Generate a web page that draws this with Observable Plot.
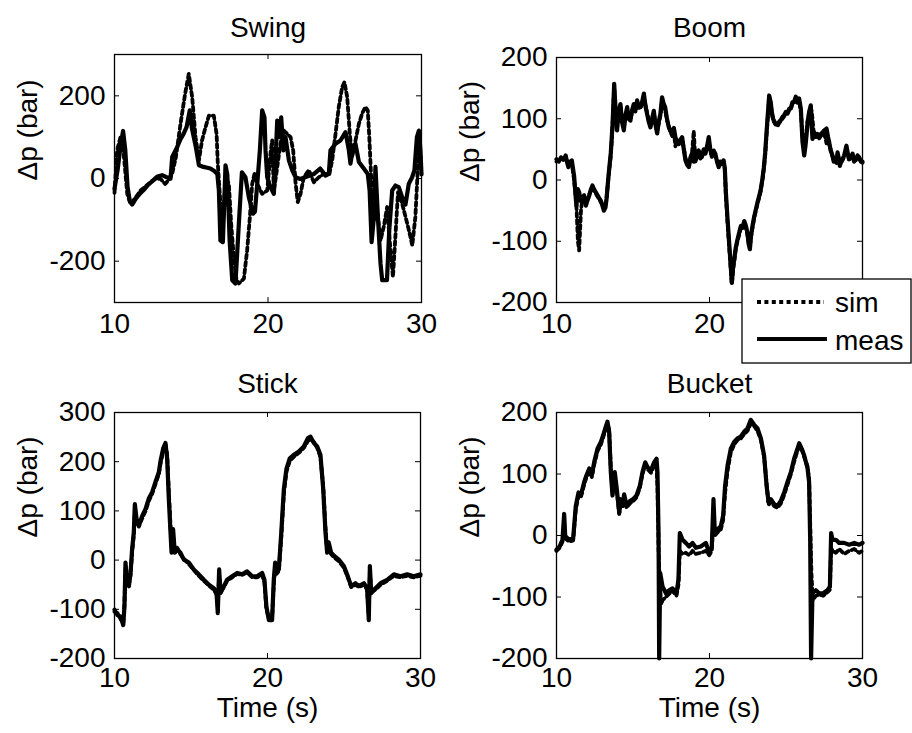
<!DOCTYPE html>
<html><head><meta charset="utf-8">
<script src="https://cdn.jsdelivr.net/npm/d3@7"></script>
<script src="https://cdn.jsdelivr.net/npm/@observablehq/plot@0.6"></script>
<style>
body{margin:0;background:#fff;}
#root{position:relative;width:912px;height:733px;overflow:hidden;background:#fff;font-family:"Liberation Sans",Arial,sans-serif;}
.panel{position:absolute;}
.panel svg{display:block;}
#legend{position:absolute;left:741px;top:278px;}
</style></head><body><div id="root"></div>
<script>
// ---------- data (time in s, Δp in bar) ----------
const titles = ["Swing", "Boom", "Stick", "Bucket"];
const xTicks = [10, 20, 30];
const boomXLabels = [10, 20]; // the "30" label is hidden under the legend in the original
const swingYTicks = [-200, 0, 200];
const boomYTicks = [-200, -100, 0, 100, 200];
const stickYTicks = [-200, -100, 0, 100, 200, 300];
const bucketYTicks = [-200, -100, 0, 100, 200];
const legendLabels = ["sim", "meas"];

const swingMeasT = [10.0,10.2,10.4,10.56,10.7,10.85,11.0,11.15,11.4,11.7,11.9,12.2,12.5,12.8,13.1,13.4,13.65,13.76,14.08,14.3,14.5,14.7,14.9,15.05,15.3,15.5,15.8,16.05,16.25,16.5,16.7,16.8,16.9,17.06,17.15,17.23,17.35,17.5,17.67,17.88,18.1,18.3,18.53,18.75,19.03,19.15,19.3,19.47,19.62,19.77,19.84,19.95,20.16,20.38,20.49,20.6,20.75,20.86,21.0,21.14,21.36,21.58,21.8,22.1,22.55,23.0,23.4,23.75,23.96,24.07,24.4,24.72,25.05,25.27,25.37,25.55,25.7,25.92,26.24,26.5,26.62,26.75,26.9,27.0,27.16,27.33,27.44,27.75,27.9,28.09,28.3,28.52,28.74,28.96,29.17,29.39,29.54,29.7,29.83,29.93,30.0];
const swingMeasP = [-25,20,80,115,70,-20,-55,-63,-48,-35,-28,-15,-5,5,8,3,0,52,76,95,108,125,165,120,76,32,28,26,24,18,11,-29,-150,-154,-60,32,10,-150,-246,-254,-110,15,3,-45,-85,-80,-13,68,165,148,68,3,-21,-37,44,140,100,148,68,100,44,20,3,-1,5,11,24,7,11,68,84,92,112,68,36,76,84,40,24,11,-29,-154,-93,28,-93,-206,-246,-246,-125,-29,-17,-21,-45,-63,-13,3,20,100,116,68,10];
const swingSimT = [10.0,10.17,10.39,10.55,10.83,11.04,11.3,11.7,12.0,12.35,12.7,13.0,13.3,13.5,13.75,14.0,14.3,14.6,14.84,15.06,15.28,15.5,15.7,15.93,16.15,16.47,16.65,16.73,16.9,17.0,17.12,17.23,17.45,17.6,17.77,17.95,18.1,18.43,18.64,18.82,18.97,19.12,19.3,19.62,19.95,20.16,20.27,20.38,20.5,20.81,21.03,21.25,21.47,21.64,21.8,21.94,22.12,22.33,22.66,22.99,23.31,23.64,24.0,24.18,24.4,24.61,24.83,24.98,25.16,25.33,25.48,25.7,25.92,26.13,26.35,26.5,26.6,26.74,26.9,27.11,27.33,27.55,27.76,27.98,28.14,28.31,28.47,28.74,28.96,29.18,29.4,29.6,29.72,29.83,30.0];
const swingSimP = [-35,68,100,80,-37,-61,-50,-29,-20,-9,0,-1,-13,-5,10,52,132,205,253,197,100,44,92,124,152,152,108,36,-61,-142,-77,3,-13,-110,-190,-246,-254,-242,-174,-93,-13,11,-13,-37,-29,60,92,-29,0,84,116,108,100,68,-13,-57,-37,3,20,-9,3,11,11,44,108,173,221,233,197,108,52,92,132,157,173,165,100,-13,-100,-77,-150,-115,-69,-174,-238,-134,-33,-61,-93,-125,-162,-93,-5,68,44];

const boomT = [
  10.0,10.15,10.3,10.45,10.6,10.7,10.78,10.9,11.0,11.15,
  11.3,11.4,11.48,11.6,11.7,11.8,11.92,12.0,12.13,12.25,
  12.35,12.45,12.57,12.75,12.9,13.0,13.1,13.2,13.27,13.4,
  13.55,13.66,13.77,13.85,13.96,14.05,14.18,14.28,14.4,14.5,
  14.62,14.72,14.83,14.95,15.05,15.15,15.27,15.38,15.49,15.6,
  15.71,15.82,15.92,16.03,16.14,16.25,16.36,16.47,16.58,16.68,
  16.79,16.9,17.0,17.1,17.22,17.34,17.45,17.56,17.67,17.77,
  17.88,17.99,18.1,18.21,18.32,18.43,18.54,18.65,18.76,18.86,
  18.97,19.08,19.18,19.29,19.4,19.51,19.62,19.73,19.84,19.95,
  20.05,20.16,20.27,20.38,20.49,20.6,20.7,20.81,20.92,21.0,
  21.07,21.18,21.33,21.46,21.55,21.61,21.72,21.83,21.95,22.05,
  22.15,22.27,22.38,22.48,22.56,22.64,22.72,22.81,22.92,23.03,
  23.15,23.25,23.35,23.46,23.55,23.64,23.72,23.79,23.9,24.0,
  24.08,24.16,24.25,24.34,24.45,24.55,24.66,24.77,24.88,24.99,
  25.1,25.21,25.32,25.42,25.53,25.64,25.75,25.86,25.97,26.08,
  26.19,26.27,26.34,26.42,26.51,26.62,26.68,26.73,26.84,26.95,
  27.06,27.17,27.28,27.4,27.5,27.65,27.75,27.82,27.92,28.04,
  28.12,28.21,28.3,28.37,28.45,28.52,28.6,28.69,28.8,28.95,
  29.05,29.13,29.25,29.35,29.45,29.56,29.68,29.78,29.9,30.0];
const boomMeasP = [
  34,30,37,33,40,28,21,30,32,7,
  -42,-15,-20,-35,-31,-25,-42,-35,-26,-15,
  -9,-15,-20,-28,-34,-42,-50,-45,-31,7,
  45,89,157,120,81,110,124,95,81,105,
  119,100,97,115,124,112,130,118,119,128,
  141,120,108,95,86,100,113,90,76,95,
  108,135,125,119,100,86,80,76,85,70,
  62,59,66,70,50,32,25,21,35,43,
  30,32,45,48,36,38,50,43,55,70,
  50,38,48,43,30,21,30,26,32,20,
  -20,-64,-119,-168,-140,-130,-110,-97,-85,-75,
  -78,-67,-75,-86,-105,-113,-90,-75,-60,-48,
  -35,-26,-15,2,20,45,75,100,138,127,
  110,100,95,92,90,95,98,103,106,111,
  110,116,118,127,128,136,128,133,116,62,
  40,55,73,95,111,122,90,67,78,72,
  75,70,75,78,81,84,70,62,48,40,
  30,34,28,45,35,23,30,34,40,56,
  42,34,38,43,30,34,40,37,30,30];
const boomSimP = [
  30,32,35,34,38,30,25,28,28,0,
  -40,-100,-115,-50,-28,-30,-40,-33,-24,-18,
  -12,-16,-22,-30,-36,-40,-48,-42,-30,5,
  40,85,150,115,85,105,120,98,85,100,
  115,105,100,112,120,115,126,120,118,125,
  135,122,110,98,90,98,110,92,80,92,
  105,128,122,115,98,88,78,72,80,55,
  65,58,62,68,52,35,28,25,38,45,
  80,30,40,50,35,40,48,45,52,65,
  48,40,45,40,32,22,28,25,30,18,
  -25,-70,-125,-170,-145,-135,-112,-100,-88,-78,
  -80,-70,-78,-90,-102,-108,-92,-78,-62,-50,
  -38,-28,-18,0,18,40,70,95,132,125,
  108,98,93,90,88,93,96,100,104,108,
  108,114,116,124,126,133,126,130,112,70,
  55,62,80,98,108,118,112,100,70,70,
  72,68,72,75,76,60,65,58,50,38,
  32,32,30,42,35,25,28,32,38,52,
  40,32,36,40,32,32,38,35,30,28];

const stickT = [10.0,10.2,10.4,10.57,10.65,10.72,10.83,10.94,11.05,11.15,11.26,11.33,11.44,11.59,11.81,12.03,12.24,12.46,12.68,12.9,13.0,13.18,13.33,13.44,13.55,13.66,13.73,13.83,13.94,14.1,14.31,14.53,14.86,15.18,15.51,15.84,16.17,16.49,16.67,16.75,16.84,16.93,17.15,17.36,17.69,18.02,18.34,18.67,19.0,19.32,19.65,19.8,19.93,20.09,20.3,20.41,20.5,20.59,20.74,20.9,21.07,21.24,21.46,21.72,22.05,22.37,22.64,22.81,23.03,23.25,23.46,23.64,23.79,23.9,24.0,24.16,24.38,24.66,24.99,25.25,25.47,25.75,25.97,26.3,26.51,26.62,26.69,26.78,27.06,27.39,27.82,28.26,28.69,29.13,29.56,30.0];
const stickMeasP = [-101,-112,-115,-132,-95,-5,-47,-53,-26,22,56,114,84,70,90,104,125,138,159,179,200,227,238,207,125,56,15,63,15,22,15,1,-5,-19,-29,-40,-50,-57,-67,-108,-19,-67,-53,-40,-33,-26,-29,-23,-33,-33,-26,-40,-95,-122,-122,-40,-5,-26,-19,56,145,186,207,214,221,231,248,251,238,231,214,145,56,15,36,15,8,1,-12,-33,-53,-47,-53,-47,-57,-122,-12,-67,-57,-47,-40,-29,-33,-29,-33,-29];
const stickSimP = [-105,-108,-120,-128,-90,-15,-50,-50,-30,15,50,100,80,68,85,100,120,135,155,175,195,222,235,215,140,70,25,50,20,25,12,3,-8,-20,-32,-42,-52,-60,-70,-95,-30,-65,-55,-42,-35,-28,-30,-25,-35,-35,-30,-45,-100,-118,-118,-50,-15,-28,-22,45,135,180,202,210,218,228,242,246,240,228,210,150,65,20,30,12,5,-2,-15,-35,-55,-50,-55,-50,-60,-110,-25,-65,-60,-50,-42,-32,-35,-32,-35,-32];

const bucketMeasT = [10.0,10.2,10.39,10.5,10.57,10.83,11.09,11.26,11.44,11.59,11.81,11.96,12.14,12.31,12.46,12.68,12.9,13.05,13.22,13.33,13.44,13.55,13.66,13.81,13.94,14.1,14.2,14.31,14.42,14.58,14.79,15.01,15.23,15.45,15.62,15.8,15.95,16.17,16.38,16.54,16.6,16.67,16.71,16.78,16.93,17.15,17.36,17.58,17.84,17.97,18.06,18.24,18.45,18.67,18.89,19.11,19.43,19.76,19.98,20.15,20.26,20.35,20.52,20.74,20.89,21.02,21.18,21.39,21.61,21.83,22.05,22.27,22.48,22.7,22.92,23.14,23.36,23.57,23.73,23.86,24.01,24.23,24.44,24.66,24.88,25.1,25.32,25.53,25.75,25.86,26.03,26.19,26.41,26.51,26.58,26.64,26.73,26.95,27.17,27.43,27.71,27.87,27.95,28.04,28.26,28.47,28.8,29.13,29.46,29.78,30.0];
const bucketMeasP = [-23,-18,-7,35,-1,-7,-4,48,70,65,87,98,109,98,119,141,152,163,177,185,169,103,65,103,76,37,59,48,67,48,56,59,65,81,103,119,111,106,119,125,103,4,-200,-61,-83,-94,-89,-86,-94,-72,4,-7,-12,-18,-12,-20,-18,-12,-28,-18,59,4,10,15,32,81,114,141,152,158,161,169,174,188,180,174,158,130,81,54,59,51,48,56,70,87,103,125,141,150,141,130,109,87,-7,-200,-94,-89,-94,-94,-89,-83,4,-7,-7,-12,-12,-15,-12,-15,-12];
const bucketSimT = [10.0,10.2,10.39,10.5,10.57,10.83,11.09,11.26,11.44,11.59,11.81,11.96,12.14,12.31,12.46,12.68,12.9,13.05,13.22,13.33,13.44,13.55,13.66,13.81,13.94,14.1,14.2,14.31,14.42,14.58,14.79,15.01,15.23,15.45,15.62,15.8,15.95,16.17,16.38,16.54,16.6,16.67,16.75,16.85,16.93,17.15,17.36,17.58,17.84,17.97,18.06,18.24,18.45,18.67,18.89,19.11,19.43,19.76,19.98,20.15,20.26,20.35,20.52,20.74,20.89,21.02,21.18,21.39,21.61,21.83,22.05,22.27,22.48,22.7,22.92,23.14,23.36,23.57,23.73,23.86,24.01,24.23,24.44,24.66,24.88,25.1,25.32,25.53,25.75,25.86,26.03,26.19,26.41,26.51,26.58,26.66,26.75,26.95,27.17,27.43,27.71,27.87,27.95,28.04,28.26,28.47,28.8,29.13,29.46,29.78,30.0];
const bucketSimP = [-25,-20,-10,20,-5,-10,-8,42,65,62,83,95,105,95,115,137,148,160,173,180,172,110,70,95,72,35,55,45,62,45,52,56,62,78,100,115,108,102,115,110,80,-20,-80,-112,-105,-100,-95,-90,-98,-80,-25,-30,-28,-32,-25,-30,-28,-25,-32,-25,30,0,5,10,25,70,105,135,148,155,158,165,170,182,178,170,155,128,85,50,55,48,45,52,66,83,100,120,138,145,140,128,112,90,20,-60,-105,-98,-96,-98,-92,-88,-20,-25,-28,-22,-30,-25,-22,-28,-25];

// ---------- drawing ----------
const FONT = '"Liberation Sans", Arial, sans-serif';
const FS = 28;
const DASH = "4,3.4";
const toRows = (t, p) => t.map((x, i) => ({t: x, p: p[i]}));
const fmt = d => String(d); // plain hyphen-minus, as in the original

const panels = [
  {title: titles[0], left: 0,   top: 0,   h: 366, ml: 114, mr: 35, mt: 54, mb: 64, yDomain: [-300, 300], yTicks: swingYTicks, xLabels: xTicks,
   sim: toRows(swingSimT, swingSimP), meas: toRows(swingMeasT, swingMeasP), time: false, tdy: -18, pad: 11},
  {title: titles[1], left: 456, top: 0,   h: 366, ml: 100, mr: 50, mt: 57, mb: 64, yDomain: [-200, 200], yTicks: boomYTicks, xLabels: boomXLabels,
   sim: toRows(boomT, boomSimP), meas: toRows(boomT, boomMeasP), time: false, tdy: -21, pad: 11},
  {title: titles[2], left: 0,   top: 366, h: 367, ml: 114, mr: 36, mt: 46, mb: 75, yDomain: [-200, 300], yTicks: stickYTicks, xLabels: xTicks,
   sim: toRows(stickT, stickSimP), meas: toRows(stickT, stickMeasP), time: true, tdy: -20, pad: 9},
  {title: titles[3], left: 456, top: 366, h: 367, ml: 100, mr: 50, mt: 46, mb: 75, yDomain: [-200, 200], yTicks: bucketYTicks, xLabels: xTicks,
   sim: toRows(bucketSimT, bucketSimP), meas: toRows(bucketMeasT, bucketMeasP), time: true, tdy: -20, pad: 9}
];

const root = document.getElementById("root");
for (const c of panels) {
  const W = 456;
  const fh = c.h - c.mt - c.mb;
  const fw = W - c.ml - c.mr;
  const TL = 5;
  const svg = Plot.plot({
    width: W, height: c.h,
    marginLeft: c.ml, marginRight: c.mr, marginTop: c.mt, marginBottom: c.mb,
    style: {fontFamily: FONT, fontSize: FS + "px", color: "black", background: "white", overflow: "visible"},
    x: {domain: [10, 30]},
    y: {domain: c.yDomain},
    marks: [
      Plot.line(c.sim, {x: "t", y: "p", stroke: "black", strokeWidth: 3.8, strokeDasharray: DASH}),
      Plot.line(c.meas, {x: "t", y: "p", stroke: "black", strokeWidth: 4.2}),
      Plot.frame({stroke: "black", strokeWidth: 1.3}),
      Plot.tickX(xTicks, {x: d => d, insetTop: fh - TL, stroke: "black", strokeWidth: 1}),
      Plot.tickX(xTicks, {x: d => d, insetBottom: fh - TL, stroke: "black", strokeWidth: 1}),
      Plot.tickY(c.yTicks, {y: d => d, insetRight: fw - TL, stroke: "black", strokeWidth: 1}),
      Plot.tickY(c.yTicks, {y: d => d, insetLeft: fw - TL, stroke: "black", strokeWidth: 1}),
      Plot.axisX(c.xLabels, {tickSize: 0, tickPadding: c.pad, label: null, fontSize: FS, tickFormat: fmt}),
      Plot.axisY(c.yTicks, {tickSize: 0, tickPadding: 9, label: null, fontSize: FS, tickFormat: fmt}),
      Plot.text([c.title], {frameAnchor: "top", dy: c.tdy, lineAnchor: "bottom", fontSize: FS, fill: "black"}),
      Plot.text(["\u0394p (bar)"], {frameAnchor: "left", rotate: -90, dx: -86, dy: 2, fontSize: FS, fill: "black"}),
      c.time ? Plot.text(["Time (s)"], {frameAnchor: "bottom", dy: 58, fontSize: FS, fill: "black"}) : null
    ]
  });
  const div = document.createElement("div");
  div.className = "panel";
  div.style.left = c.left + "px";
  div.style.top = c.top + "px";
  div.style.width = W + "px";
  div.style.height = c.h + "px";
  div.appendChild(svg);
  root.appendChild(div);
}

// legend
const lg = d3.select(root).append("svg").attr("id", "legend").attr("width", 171).attr("height", 86)
  .style("font-family", FONT).style("font-size", FS + "px");
lg.append("rect").attr("x", 1).attr("y", 1).attr("width", 169).attr("height", 84)
  .attr("fill", "white").attr("stroke", "black").attr("stroke-width", 1.3);
const rows = [{label: legendLabels[0], dash: DASH, y: 24, ty: 34}, {label: legendLabels[1], dash: null, y: 61, ty: 72}];
for (const r of rows) {
  lg.append("line").attr("x1", 16).attr("x2", r.dash ? 83 : 86).attr("y1", r.y).attr("y2", r.y)
    .attr("stroke", "black").attr("stroke-width", r.dash ? 3.8 : 4.2).attr("stroke-dasharray", r.dash);
  lg.append("text").attr("x", 94).attr("y", r.ty).text(r.label).attr("fill", "black");
}
</script>
</body></html>
